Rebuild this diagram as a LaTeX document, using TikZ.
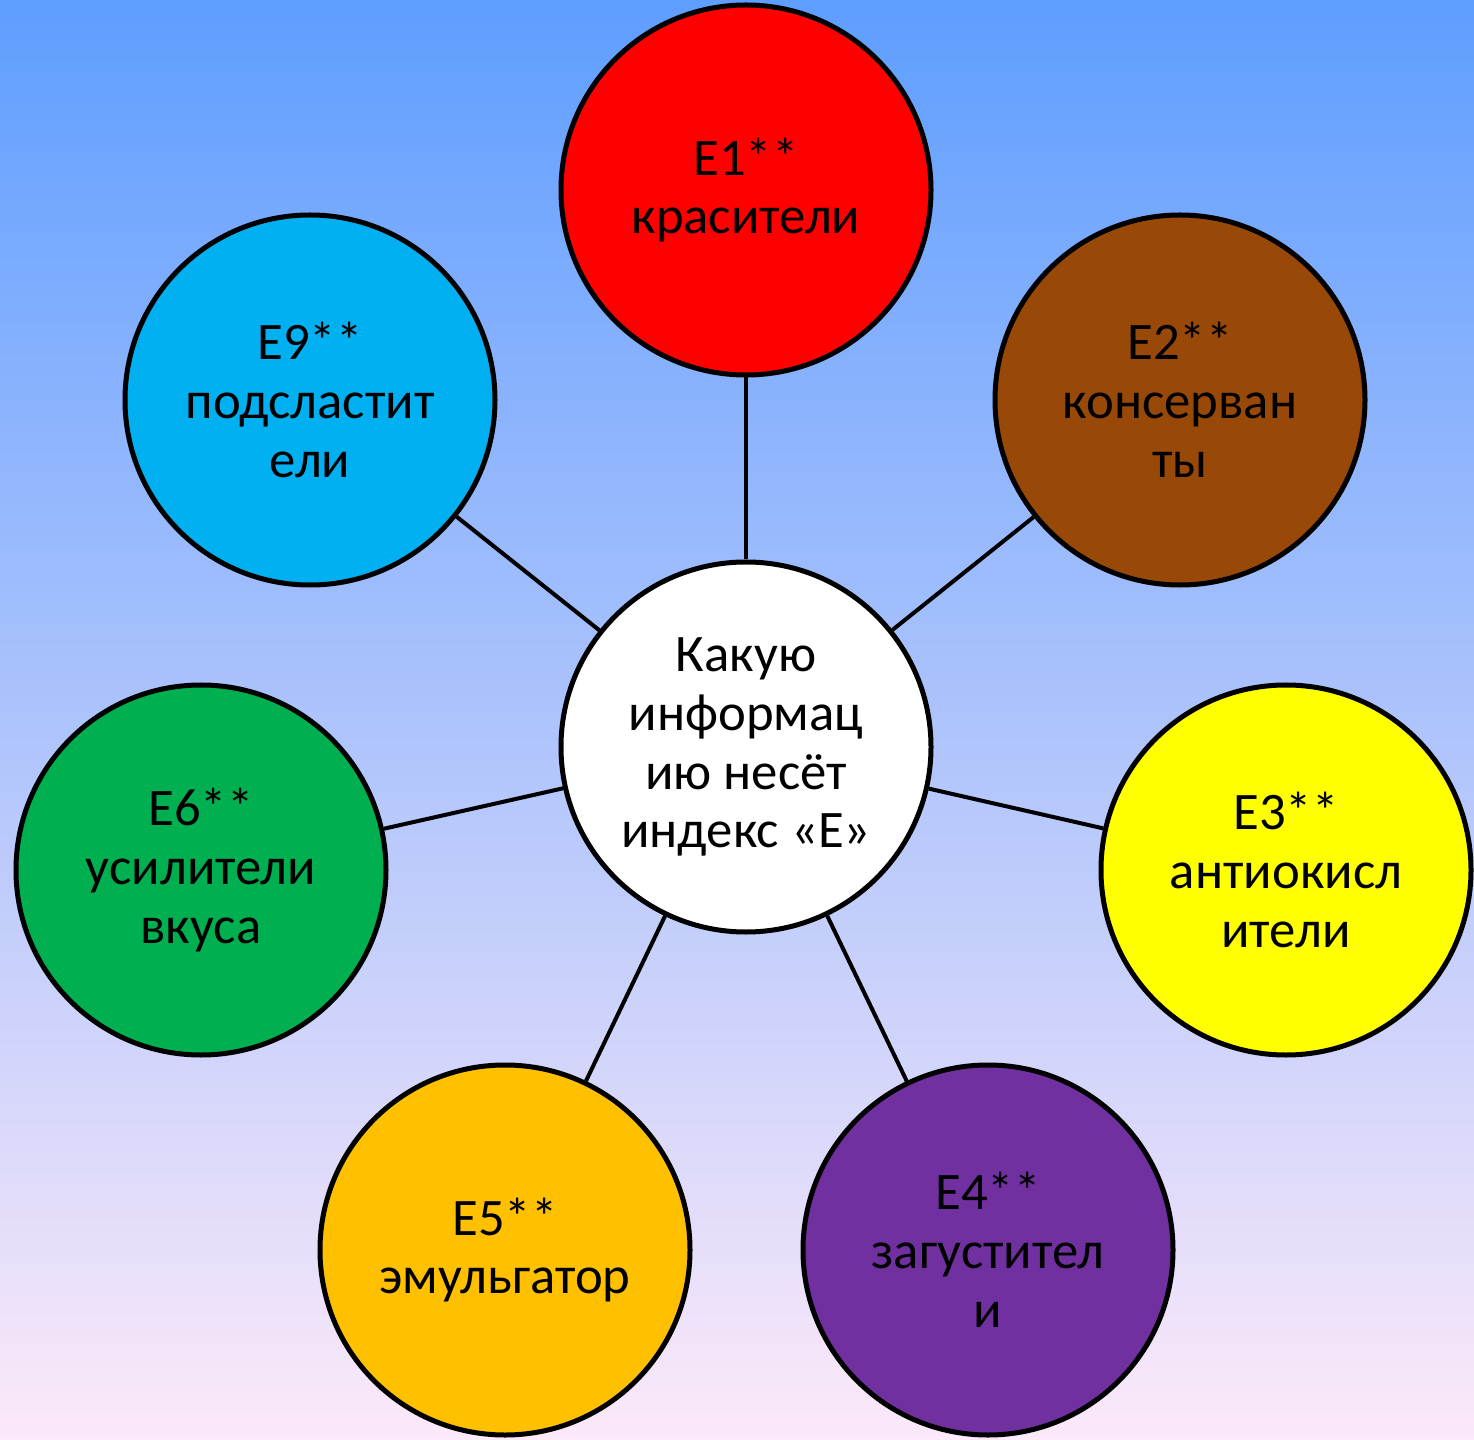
\documentclass[tikz,border=0pt]{standalone}
\usepackage{fontspec}
\setmainfont{Carlito}
\usepackage{tikz}

\definecolor{skytop}{HTML}{5E9EFF}
\definecolor{skymid}{HTML}{92C5F8}
\definecolor{skybot}{HTML}{FCE9F9}
\definecolor{dyered}{HTML}{FF0000}
\definecolor{keepbrown}{HTML}{984807}
\definecolor{oxyellow}{HTML}{FFFF00}
\definecolor{thickpurple}{HTML}{7030A0}
\definecolor{emulorange}{HTML}{FFC000}
\definecolor{tastegreen}{HTML}{00B050}
\definecolor{sweetblue}{HTML}{00B0F0}

\begin{document}
\begin{tikzpicture}[x=0.2mm,y=-0.2mm,line width=0.8mm,
                    font=\fontsize{30}{33.5}\selectfont]
  \tikzstyle{ring}=[circle,draw=black,line width=1mm,minimum size=74mm,
                    inner sep=0pt,align=center,text=black]

  \shade[top color=skytop,middle color=skymid,bottom color=skybot]
    (0,0) rectangle (1474,1440);

  \node[ring,fill=white]       (C)  at (746,747)  {Какую\\информац\\ию несёт\\индекс «Е»};
  \node[ring,fill=dyered]      (E1) at (746,190)  {E1**\\красители};
  \node[ring,fill=keepbrown]   (E2) at (1180,400) {E2**\\консерван\\ты};
  \node[ring,fill=oxyellow]    (E3) at (1286,870) {E3**\\антиокисл\\ители};
  \node[ring,fill=thickpurple] (E4) at (988,1250) {E4**\\загустител\\и};
  \node[ring,fill=emulorange]  (E5) at (505,1250) {E5**\\эмульгатор};
  \node[ring,fill=tastegreen]  (E6) at (201,870)  {E6**\\усилители\\вкуса};
  \node[ring,fill=sweetblue]   (E9) at (310,400)  {E9**\\подсластит\\ели};

  \path (C) edge (E1)
        (C) edge (E2)
        (C) edge (E3)
        (C) edge (E4)
        (C) edge (E5)
        (C) edge (E6)
        (C) edge (E9);
\end{tikzpicture}
\end{document}
